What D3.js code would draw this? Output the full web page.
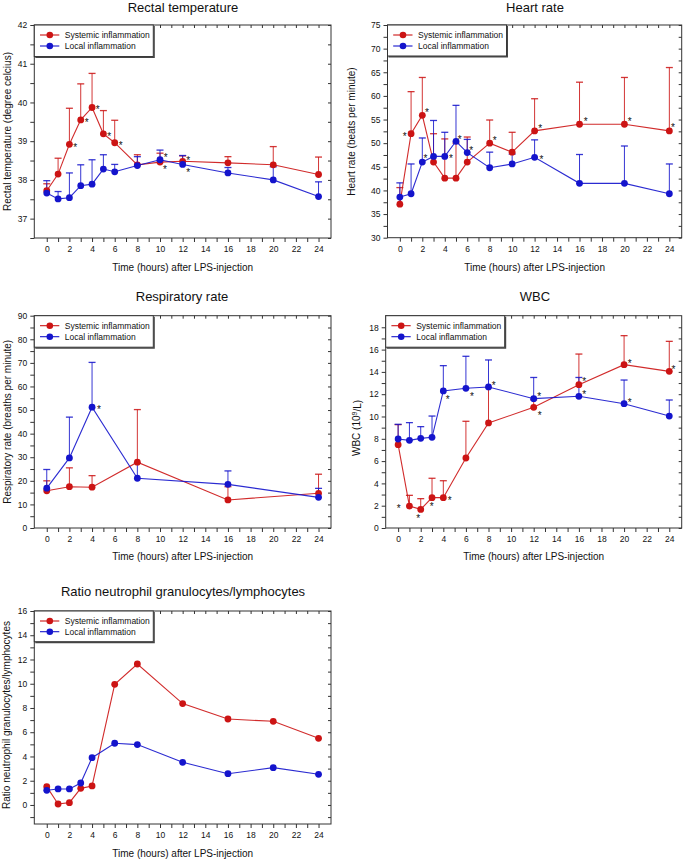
<!DOCTYPE html>
<html><head><meta charset="utf-8">
<script src="https://cdnjs.cloudflare.com/ajax/libs/d3/7.8.5/d3.min.js"></script>
<style>
body{margin:0;background:#fff}
svg{display:block}
text{font-family:"Liberation Sans",Arial,Helvetica,sans-serif;fill:#111}
</style>
</head><body>
<svg id="c" width="685" height="859"></svg>
<script>
// ---------------- DATA ----------------
const seriesNames = ["Systemic inflammation", "Local inflammation"];
const xTickLabels = [0,2,4,6,8,10,12,14,16,18,20,22,24];

// Rectal temperature
const tempHours  = [0,1,2,3,4,5,6,8,10,12,16,20,24];
const tempSys    = [37.72,38.15,38.92,39.55,39.87,39.19,38.96,38.39,38.46,38.48,38.44,38.39,38.14];
const tempSysTop = [37.90,38.56,39.85,40.48,40.75,39.79,39.54,38.65,38.69,38.62,38.60,38.86,38.59];
const tempLoc    = [37.66,37.51,37.54,37.85,37.89,38.28,38.21,38.37,38.52,38.40,38.18,38.00,37.57];
const tempLocTop = [37.98,37.70,38.18,38.39,38.52,38.65,38.40,38.60,38.77,38.63,38.32,38.34,37.95];
const tempStarT  = [2.52,3.52,4.49,5.51,6.54,10.5,10.44,12.5,12.5];
const tempStarV  = [38.90,39.53,39.87,39.19,38.96,38.65,38.33,38.57,38.25];
const tempYTicks = [37,38,39,40,41,42];

// Heart rate
const hrHours  = [0,1,2,3,4,5,6,8,10,12,16,20,24];
const hrSys    = [37.1,52.0,55.9,46.0,42.6,42.6,46.0,50.0,48.1,52.6,54.0,54.0,52.6];
const hrSysTop = [40.6,60.9,63.9,52.0,50.9,50.0,51.3,54.9,52.3,59.4,62.9,63.9,66.0];
const hrLoc    = [38.6,39.3,46.0,47.2,47.2,50.4,48.0,44.8,45.6,47.0,41.5,41.5,39.3];
const hrLocTop = [41.6,45.6,51.1,54.8,52.3,58.0,50.8,48.1,47.7,50.7,47.6,49.4,45.6];
const hrStarT  = [0.44,2.42,2.27,4.54,5.34,6.36,8.45,12.49,12.6,16.55,20.47,24.33];
const hrStarV  = [51.9,57.0,47.2,47.2,51.2,48.94,51.0,53.6,47.03,55.0,55.0,53.88];
const hrYTicks = [30,35,40,45,50,55,60,65,70,75];

// Respiratory rate
const respHours  = [0,2,4,8,16,24];
const respSys    = [15.8,17.5,17.3,27.9,11.9,14.7];
const respSysTop = [20.0,25.5,22.2,50.2,17.5,22.8];
const respLoc    = [16.9,29.7,51.2,21.1,18.5,13.0];
const respLocTop = [24.8,47.0,70.2,27.5,24.2,16.8];
const respStarT  = [4.6];
const respStarV  = [51.2];
const respYTicks = [0,10,20,30,40,50,60,70,80,90];

// WBC
const wbcHours  = [0,1,2,3,4,6,8,12,16,20,24];
const wbcSys    = [7.47,1.97,1.67,2.72,2.72,6.28,9.42,10.82,12.85,14.65,14.05];
const wbcSysTop = [9.27,2.93,2.63,4.46,4.24,9.57,12.6,11.5,15.6,17.25,16.74];
const wbcLoc    = [7.98,7.86,8.04,8.13,12.29,12.53,12.65,11.6,11.81,11.15,10.04];
const wbcLocTop = [9.3,9.45,9.09,10.04,14.56,15.4,15.07,13.5,13.5,13.27,11.48];
const wbcStarT  = [0.06,1.77,2.98,4.57,4.39,6.54,8.45,12.49,12.54,16.47,16.47,20.49,20.49,24.38];
const wbcStarV  = [1.97,1.08,2.13,2.63,11.72,12.02,13.0,11.99,10.34,13.34,12.17,14.92,11.42,14.44];
const wbcYTicks = [0,2,4,6,8,10,12,14,16,18];

// Ratio neutrophil granulocytes / lymphocytes
const ratioHours = [0,1,2,3,4,6,8,12,16,20,24];
const ratioSys   = [1.51,0.08,0.19,1.37,1.57,9.95,11.63,8.36,7.09,6.90,5.50];
const ratioLoc   = [1.21,1.32,1.32,1.81,3.90,5.09,4.98,3.52,2.58,3.08,2.53];
const ratioYTicks = [0,2,4,6,8,10,12,14,16];

// ---------------- DRAWING ----------------
const svg = d3.select("#c");
const RED = "#cc1414", BLUE = "#1414cc";
const XDOM = [-1.1, 25.1];

function panel(cfg) {
  const g = svg.append("g");
  const x = d3.scaleLinear().domain(XDOM).range([cfg.left, cfg.right]);
  const y = d3.scaleLinear().domain(cfg.yDomain).range([cfg.bottom, cfg.top]);
  const yt = cfg.yTicks;
  const step = yt[1] - yt[0];
  const minor = [];
  for (let v = yt[0] - step / 2; v < yt[yt.length - 1]; v += step) {
    if (v >= cfg.yDomain[0] - 1e-9) minor.push(+v.toFixed(4));
  }
  const hoursAll = d3.range(0, 25);

  // frame
  g.append("rect").attr("x", cfg.left).attr("y", cfg.top)
    .attr("width", cfg.right - cfg.left).attr("height", cfg.bottom - cfg.top)
    .attr("fill", "none").attr("stroke", "#333").attr("stroke-width", 1);

  const styleAxis = a => {
    a.select(".domain").remove();
    a.selectAll(".tick line").attr("stroke", "#333");
    a.selectAll(".tick text").style("font-size", "8.5px").attr("fill", "#111");
  };
  g.append("g").attr("transform", `translate(0,${cfg.bottom})`)
    .call(d3.axisBottom(x).tickValues(hoursAll).tickSize(4).tickPadding(4)
      .tickFormat(d => xTickLabels.includes(d) ? d : ""))
    .call(styleAxis);
  g.append("g").attr("transform", `translate(0,${cfg.top})`)
    .call(d3.axisTop(x).tickValues(hoursAll).tickSize(-3).tickFormat(""))
    .call(styleAxis);
  g.append("g").attr("transform", `translate(${cfg.left},0)`)
    .call(d3.axisLeft(y).tickValues(yt.concat(minor)).tickSize(4).tickPadding(3)
      .tickFormat(d => yt.includes(d) ? d : ""))
    .call(styleAxis);
  g.append("g").attr("transform", `translate(${cfg.right},0)`)
    .call(d3.axisRight(y).tickValues(yt.concat(minor)).tickSize(-3).tickFormat(""))
    .call(styleAxis);

  g.append("text").attr("x", cfg.titleX).attr("y", cfg.titleY)
    .attr("text-anchor", "middle").style("font-size", "13px").text(cfg.title);
  g.append("text").attr("x", (cfg.left + cfg.right) / 2).attr("y", cfg.xLabelY)
    .attr("text-anchor", "middle").style("font-size", "10px")
    .text("Time (hours) after LPS-injection");
  const yl = g.append("text")
    .attr("transform", `translate(${cfg.yLabelX},${cfg.yLabelY}) rotate(-90)`)
    .attr("text-anchor", "middle").style("font-size", "10px");
  if (cfg.yLabelParts) {
    yl.append("tspan").text(cfg.yLabelParts[0]);
    yl.append("tspan").attr("dy", "-0.4em").style("font-size", "7px").text(cfg.yLabelParts[1]);
    yl.append("tspan").attr("dy", "0.4em").text(cfg.yLabelParts[2]);
  } else yl.text(cfg.yLabel);

  const plot = g.append("g");
  cfg.series.forEach(s => {
    if (!s.tops) return;
    s.hours.forEach((h, i) => {
      const cx = x(h), y0 = y(s.vals[i]), y1 = y(s.tops[i]);
      plot.append("line").attr("x1", cx).attr("x2", cx).attr("y1", y0).attr("y2", y1)
        .attr("stroke", s.color).attr("stroke-width", 1).attr("opacity", 0.85);
      plot.append("line").attr("x1", cx - 3.5).attr("x2", cx + 3.5).attr("y1", y1).attr("y2", y1)
        .attr("stroke", s.color).attr("stroke-width", 1.3).attr("opacity", 0.85);
    });
  });
  cfg.series.forEach(s => {
    const line = d3.line().x((d, i) => x(s.hours[i])).y(d => y(d));
    plot.append("path").attr("d", line(s.vals)).attr("fill", "none")
      .attr("stroke", s.color).attr("stroke-width", 1.1).attr("opacity", 0.9);
    plot.selectAll(null).data(s.vals).enter().append("circle")
      .attr("cx", (d, i) => x(s.hours[i])).attr("cy", d => y(d)).attr("r", 3.4)
      .attr("fill", s.color);
  });
  (cfg.starT || []).forEach((t, i) => {
    plot.append("text").attr("x", x(t)).attr("y", y(cfg.starV[i]) + 5.8)
      .attr("text-anchor", "middle").style("font-size", "10px").attr("fill", "#333").text("*");
  });

  const lg = g.append("g").attr("transform", `translate(${cfg.left},${cfg.top})`);
  const lw = 119, lh = cfg.legendH;
  lg.append("rect").attr("x", 0).attr("y", 0).attr("width", lw).attr("height", lh)
    .attr("fill", "#fff").attr("stroke", "#333").attr("stroke-width", 1);
  lg.append("path").attr("d", `M${lw + 0.8},1 V${lh + 0.8} H1`).attr("fill", "none")
    .attr("stroke", "#444").attr("stroke-width", 1.4);
  cfg.series.forEach((s, i) => {
    const ry = cfg.legendRows[i];
    lg.append("line").attr("x1", 5.7).attr("x2", 25).attr("y1", ry).attr("y2", ry)
      .attr("stroke", s.color).attr("stroke-width", 1.1);
    lg.append("circle").attr("cx", 15.5).attr("cy", ry).attr("r", 3.3).attr("fill", s.color);
    lg.append("text").attr("x", 30.5).attr("y", ry + 3).style("font-size", "8.5px")
      .text(seriesNames[i]);
  });
}

panel({
  title: "Rectal temperature", titleX: 183, titleY: 11.5,
  left: 34.3, right: 331, top: 25, bottom: 238,
  yDomain: [36.5, 42], yTicks: tempYTicks,
  xLabelY: 270.5, yLabel: "Rectal temperature (degree celcius)", yLabelX: 11, yLabelY: 131.5,
  legendH: 31.5, legendRows: [10, 21],
  series: [
    { hours: tempHours, vals: tempSys, tops: tempSysTop, color: RED },
    { hours: tempHours, vals: tempLoc, tops: tempLocTop, color: BLUE }
  ],
  starT: tempStarT, starV: tempStarV
});

panel({
  title: "Heart rate", titleX: 535, titleY: 11.5,
  left: 387.5, right: 681.7, top: 25, bottom: 237.7,
  yDomain: [30, 75], yTicks: hrYTicks,
  xLabelY: 270.5, yLabel: "Heart rate (beats per minute)", yLabelX: 355, yLabelY: 131.5,
  legendH: 31, legendRows: [10, 21],
  series: [
    { hours: hrHours, vals: hrSys, tops: hrSysTop, color: RED },
    { hours: hrHours, vals: hrLoc, tops: hrLocTop, color: BLUE }
  ],
  starT: hrStarT, starV: hrStarV
});

panel({
  title: "Respiratory rate", titleX: 182, titleY: 301,
  left: 34.3, right: 331, top: 315.7, bottom: 528,
  yDomain: [0, 90], yTicks: respYTicks,
  xLabelY: 560, yLabel: "Respiratory rate (breaths per minute)", yLabelX: 10.5, yLabelY: 421.8,
  legendH: 31.5, legendRows: [10, 21],
  series: [
    { hours: respHours, vals: respSys, tops: respSysTop, color: RED },
    { hours: respHours, vals: respLoc, tops: respLocTop, color: BLUE }
  ],
  starT: respStarT, starV: respStarV
});

panel({
  title: "WBC", titleX: 535, titleY: 301,
  left: 385.7, right: 681.7, top: 315.7, bottom: 528,
  yDomain: [0, 19.04], yTicks: wbcYTicks,
  xLabelY: 560, yLabelParts: ["WBC (10", "9", "/L)"], yLabelX: 360, yLabelY: 428,
  legendH: 31.5, legendRows: [10, 21],
  series: [
    { hours: wbcHours, vals: wbcSys, tops: wbcSysTop, color: RED },
    { hours: wbcHours, vals: wbcLoc, tops: wbcLocTop, color: BLUE }
  ],
  starT: wbcStarT, starV: wbcStarV
});

panel({
  title: "Ratio neutrophil granulocytes/lymphocytes", titleX: 183, titleY: 596,
  left: 34.3, right: 331, top: 611, bottom: 824,
  yDomain: [-1.57, 16], yTicks: ratioYTicks,
  xLabelY: 856.5, yLabel: "Ratio neutrophil granulocytes/lymphocytes", yLabelX: 9.5, yLabelY: 715,
  legendH: 30.7, legendRows: [10, 20.7],
  series: [
    { hours: ratioHours, vals: ratioSys, tops: null, color: RED },
    { hours: ratioHours, vals: ratioLoc, tops: null, color: BLUE }
  ]
});
</script>
</body></html>
